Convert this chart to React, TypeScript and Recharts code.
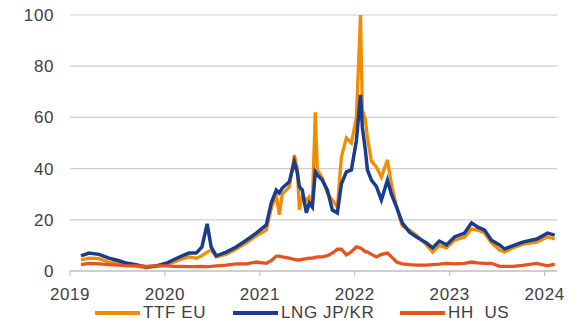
import { LineChart, Line, XAxis, YAxis, CartesianGrid, Legend } from 'recharts';

const ORANGE = '#F28C00';
const BLUE = '#1A3C8E';
const RED = '#E8521E';
const FONT = '"Liberation Sans", Arial, sans-serif';

// decimal years
const dates = [
  2019.116, 2019.2, 2019.306, 2019.41, 2019.517, 2019.59, 2019.696, 2019.8, 2019.907, 2020.013,
  2020.097, 2020.18, 2020.255, 2020.33, 2020.39, 2020.445, 2020.487, 2020.54, 2020.646, 2020.75,
  2020.857, 2020.962, 2021.068, 2021.12, 2021.173, 2021.205, 2021.236, 2021.31, 2021.363, 2021.395,
  2021.416, 2021.447, 2021.49, 2021.52, 2021.553, 2021.584, 2021.605, 2021.658, 2021.711, 2021.764,
  2021.816, 2021.859, 2021.911, 2021.964, 2022.017, 2022.06, 2022.08, 2022.112, 2022.133, 2022.175,
  2022.228, 2022.28, 2022.344, 2022.386, 2022.44, 2022.5, 2022.576, 2022.65, 2022.755, 2022.82,
  2022.89, 2022.966, 2023.05, 2023.156, 2023.23, 2023.293, 2023.367, 2023.44, 2023.525, 2023.578,
  2023.662, 2023.768, 2023.916, 2024.03, 2024.106,
];

const ttfEU = [
  4.3, 5, 4.8, 3.5, 3, 2.6, 2, 1.2, 1.8, 2.5,
  3.5, 4.7, 5.5, 5, 6, 7.4, 8.2, 5.5, 6.6, 8.6,
  11, 13.7, 16, 24.6, 29.7, 22, 30, 32.8, 45.3, 40,
  24, 29, 27.7, 29, 26.6, 62, 39.5, 36.3, 30.5, 27.7,
  25, 44.5, 52, 50, 60, 100, 63, 59, 52, 43,
  40.6, 36.7, 43.4, 34, 25, 17.6, 16, 14, 10.2, 7.4,
  10, 9, 12, 13.3, 16.4, 16, 14.8, 11, 8.2, 7.4,
  9, 10.5, 11.3, 13.3, 12.5,
];

const lngJPKR = [
  5.9, 7, 6.5, 5, 4, 3.1, 2.5, 1.6, 2, 3,
  4.5, 5.9, 7, 7, 9.4, 18.4, 9.4, 5.9, 7.4, 9.4,
  12, 14.8, 18, 26.6, 31.6, 30.5, 32.4, 34.8, 42.6, 38.3,
  33, 31.6, 22.7, 26.6, 25, 38.7, 37.5, 35.5, 31.6, 23.8,
  22.7, 34, 38.7, 39.5, 51, 68.8, 56, 47, 39.5, 35.5,
  33, 27.7, 35.5, 30, 25, 18.8, 15.2, 13.3, 11, 9,
  11.7, 10.2, 13.3, 14.8, 18.8, 17.2, 16, 12, 10.2, 8.6,
  9.8, 11.3, 12.5, 14.8, 14,
];

const hhUS = [
  2.5, 3, 2.8, 2.5, 2.3, 2, 2, 1.8, 2, 2,
  1.8, 1.8, 1.7, 1.7, 1.8, 1.7, 1.8, 2, 2.3, 2.8,
  2.8, 3.5, 3, 4, 5.8, 5.8, 5.5, 5, 4.5, 4.3,
  4.3, 4.5, 4.8, 5, 5, 5.3, 5.5, 5.5, 6, 7,
  8.5, 8.5, 6.3, 7.5, 9.4, 9, 8.5, 7.5, 7.5, 6.5,
  5.5, 6.5, 7, 5.5, 3.5, 2.8, 2.5, 2.3, 2.3, 2.5,
  2.7, 3, 2.8, 3, 3.5, 3.2, 3, 3, 1.8, 1.8,
  1.8, 2.2, 3, 2, 2.7,
];

const yearTicks = [2019, 2020, 2021, 2022, 2023, 2024];
const valueTicks = [0, 20, 40, 60, 80, 100];
const seriesKeys = ['ttf', 'lng', 'hh'];

const data = dates.map((t, i) => ({ t, ttf: ttfEU[i], lng: lngJPKR[i], hh: hhUS[i] }));

const legendX: Record<string, number> = { ttf: 95, lng: 233, hh: 400 };

function LegendContent({ payload }: any) {
  const items = [...(payload || [])].sort(
    (a: any, b: any) => seriesKeys.indexOf(a.dataKey) - seriesKeys.indexOf(b.dataKey)
  );
  return (
    <div style={{ position: 'relative', width: 585, height: 20 }}>
      {items.map((p: any) => (
        <div
          key={p.dataKey}
          style={{
            position: 'absolute',
            left: legendX[p.dataKey],
            top: 2,
            height: 20,
            display: 'flex',
            alignItems: 'center',
            fontFamily: FONT,
            fontSize: 17,
            letterSpacing: 0.6,
            color: '#404040',
            whiteSpace: 'pre',
          }}
        >
          <div style={{ width: 45, height: 4, background: p.color, marginRight: 3 }} />
          {p.value}
        </div>
      ))}
    </div>
  );
}

export default function App() {
  const tickStyle = { fontFamily: FONT, fontSize: 17, fill: '#404040', letterSpacing: 0.6 };
  return (
    <div style={{ position: 'absolute', left: 0, top: 0 }}>
      <LineChart width={585} height={321} data={data} margin={{ top: 15, right: 28, bottom: 0, left: 0 }}>
        <CartesianGrid vertical={false} stroke="#cfcfcf" strokeWidth={1.2} />
        <XAxis
          dataKey="t"
          type="number"
          domain={[2019, 2024.13]}
          ticks={yearTicks}
          allowDataOverflow
          tickFormatter={(v) => String(Math.round(v))}
          height={30}
          tickSize={5}
          tickMargin={12}
          stroke="#b5b5b5"
          tick={tickStyle}
        />
        <YAxis
          domain={[0, 100]}
          ticks={valueTicks}
          width={70}
          axisLine={false}
          tickLine={false}
          tickSize={0}
          tickMargin={16}
          tick={tickStyle}
        />
        <Legend verticalAlign="bottom" content={<LegendContent />} wrapperStyle={{ left: 0, width: 585, height: 20 }} />
        <Line type="linear" dataKey="ttf" name="TTF EU" stroke={ORANGE} strokeWidth={3.3} dot={false} isAnimationActive={false} />
        <Line type="linear" dataKey="lng" name="LNG JP/KR" stroke={BLUE} strokeWidth={3.5} dot={false} isAnimationActive={false} />
        <Line type="linear" dataKey="hh" name="HH  US" stroke={RED} strokeWidth={3.3} dot={false} isAnimationActive={false} />
      </LineChart>
    </div>
  );
}
